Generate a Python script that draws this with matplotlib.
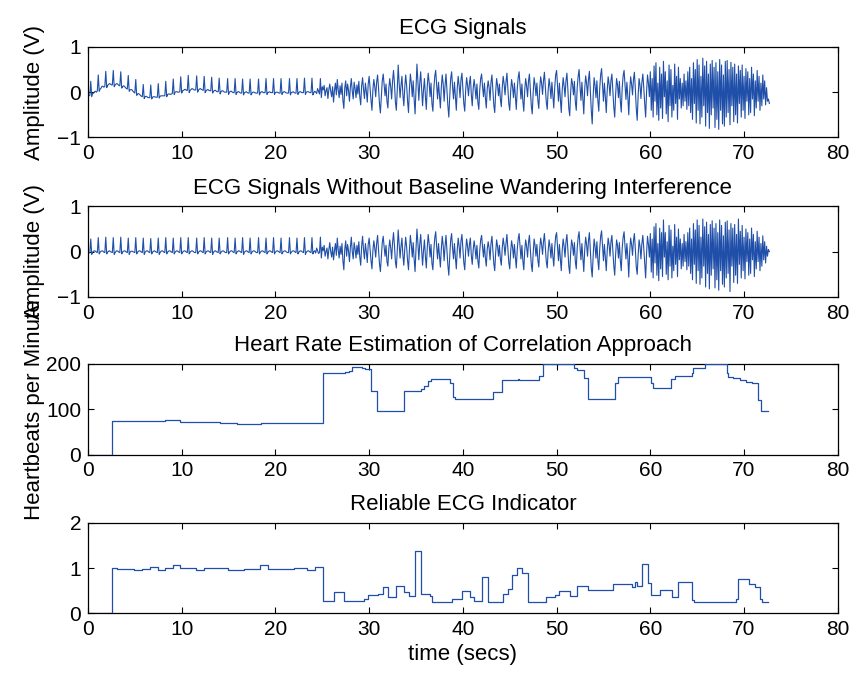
import numpy as np
import matplotlib
matplotlib.use("Agg")
import matplotlib.pyplot as plt

plt.rcParams['font.family'] = ['Liberation Sans', 'DejaVu Sans']

# sampling step of the traces (s)
dt = 0.1

# raw ECG, hundredths of a volt, one row = 1 s
ecg_raw_00_10 = [-10,-8,-7,24,-10,-3,-2,1,2,0, 3,38,2,7,9,13,13,11,13,46, 10,15,17,19,18,16,16,48,12,16,
    18,19,17,15,14,45,9,12,14,13, 10,8,7,37,2,5,6,5,2,0, -2,28,-7,-4,-3,-5,-7,-9,-10,17,
    -14,-10,-9,-10,-12,-12,-12,16,-15,-11, -10,-10,-11,-11,-11,19,-13,-9,-8,-8,
    -8,-8,-8,24,-10,-5,-4,-4,-5,-4, -3,29,-5,0,1,1,0,0,1,34]
ecg_raw_10_20 = [-2,3,4,6,6,4,4,37,-1,4, 6,8,7,5,5,5,36,0,5,7, 8,6,5,4,35,-1,3,5,6,4,
    3,3,33,-2,2,4,4,2,1,1, 31,-4,1,3,3,1,0,0,0,30, -5,0,2,2,0,-1,-1,30,-5,-1,
    1,1,-1,-2,-2,29,-6,-1,0,1, -1,-2,-2,29,-6,-2,0,0,-1,-2, -2,-2,29,-6,-1,1,1,-1,-1,-1,
    30,-5,-1,0,1,-1,-1,-1,30,-5]
ecg_raw_20_30 = [-1,0,0,-1,-2,-2,30,-5,-1,1, 1,-1,-2,-2,-2,30,-6,-1,0,1, -1,-2,-2,30,-5,-1,1,1,-1,-1,
    -1,31,-5,0,1,1,0,-1,-1,31, -6,-1,2,0,-3,8,2,-4,30,-12, 12,5,15,-8,3,10,-14,6,18,2,
    -10,12,-22,4,20,-6,28,5,-12,14, -5,20,-18,-36,10,25,-8,18,4,-20,
    12,30,2,-15,22,8,-12,16,-4,24, -10,-28,14,32,6,-14,20,2,-22,18]
ecg_raw_30_40 = [35,8,-18,-40,5,28,12,-10,22,38, 10,-25,-46,-10,25,40,15,-8,18,-20,
    -35,8,30,12,-15,25,48,20,-22,-40, 5,60,20,-12,15,35,-5,-30,10,38,
    15,-20,-45,8,40,20,-10,25,-15,-48, 10,62,25,-18,20,45,8,-30,5,30,
    -8,-38,12,42,22,-10,20,-25,-42,6, 35,48,15,-15,22,-5,-35,10,38,18,
    -20,15,40,5,-30,-55,-8,30,45,12, -15,22,-10,-40,8,35,15,-12,28,42]
ecg_raw_40_50 = [10,-25,-42,5,32,15,-8,20,35,-5, -30,8,28,10,-15,18,-22,-38,5,30,
    40,12,-10,20,-12,-35,8,25,10,-18, 22,38,6,-28,-45,0,30,15,-8,18,
    -15,-32,10,35,18,-6,22,42,8,-25, -40,2,28,12,-12,20,-10,-38,6,32,
    45,15,-15,18,-20,-42,4,30,14,-10, 24,40,5,-30,-48,-2,32,16,-8,20,
    -18,-36,8,34,20,-5,25,44,10,-22, -38,4,30,12,-14,22,-8,-35,10,38]
ecg_raw_50_60 = [48,15,-20,20,-15,-45,5,32,14,-10, 25,42,8,-35,-52,0,30,18,-6,24,
    -22,-40,10,35,50,12,-18,22,-12,-48, 6,36,20,-8,28,46,5,-40,-70,-10,
    32,15,-12,25,-18,-42,8,38,52,14, -20,20,-10,-45,4,34,18,-8,26,40,
    6,-32,-55,-5,30,16,-12,24,-20,-44, 10,36,48,14,-16,22,-10,-50,2,34,
    18,-6,28,44,8,-36,-62,-8,30,15, -14,22,40,10,-25,-55,0,38,20,-10]
ecg_raw_60_73 = [45,-40,30,-55,58,-20,65,-50,20,-62, 55,-35,40,-58,68,-10,45,-48,25,-65,
    60,-30,50,-55,15,-40,62,-25,35,-60, 55,-15,30,-35,20,-30,40,-20,25,-38,
    45,-30,55,-45,30,-60,65,-25,50,-68, 72,-40,60,-70,35,-55,75,-30,58,-75,
    68,-45,40,-80,62,-50,70,-35,55,-78, 65,-60,45,-82,72,-40,60,-70,38,-75,
    68,-55,70,-45,50,-72,66,-30,55,-65, 62,-50,40,-68,58,-25,48,-55,60,-40,
    35,-58,52,-20,45,-50,30,-45,55,-15, 40,-52,25,-35,48,-20,35,-40,20,-30,
    38,-15,25,-28,10,-20,-15,-25]

# ECG without baseline wander, hundredths of a volt
ecg_flt_00_10 = [-6,-3,-2,28,-6,-1,1,2,1,-1, -2,31,-5,-1,1,2,1,-1,-2,32, -5,-1,1,2,0,-1,-2,31,-6,-2,
    1,2,1,-1,-2,32,-5,-1,1,2, 1,-1,-2,30,-6,-1,1,1,0,-1, -2,31,-5,-1,1,2,1,-1,-2,30,
    -6,-1,1,2,1,-1,-2,29,-5,-1, 1,2,0,-1,-2,30,-6,-2,1,2, 1,-1,-2,31,-5,-1,1,2,1,-1,
    -2,30,-5,-1,1,2,1,-1,-2,31]
ecg_flt_10_20 = [-5,-1,1,2,1,-1,-2,31,-5,-1, 1,2,1,-1,-2,-2,30,-5,-1,1, 2,1,-1,-2,31,-5,-1,1,2,1,
    -1,-2,30,-6,-1,1,2,0,-1,-2, 30,-5,-1,1,2,1,-1,-2,-2,31, -5,-1,1,2,1,-1,-2,30,-5,-1,
    1,2,1,-1,-2,31,-6,-1,1,2, 1,-1,-2,30,-5,-1,1,2,1,-1, -2,-2,31,-5,-1,1,2,1,-1,-2,
    30,-5,-1,1,2,1,-1,-2,31,-5]
ecg_flt_20_30 = [-1,1,2,1,-1,-2,30,-5,-1,1, 2,1,-1,-2,-2,31,-5,-1,1,2, 1,-1,-2,30,-5,-1,1,2,1,-1,
    -2,31,-6,-1,1,2,1,-1,-2,31, -5,0,2,-3,8,2,-4,-2,32,-14, 10,2,14,-10,0,8,-16,4,20,0,
    -12,10,-18,2,18,-8,30,4,-14,12, -6,18,-20,-40,6,24,-10,16,2,-22,
    10,32,0,-16,20,6,-14,14,-6,22, -12,-30,12,34,4,-16,18,0,-24,16]
ecg_flt_30_40 = [30,4,-20,-38,2,24,8,-12,18,36, 6,-26,-44,-12,20,34,10,-10,14,-22,
    -32,6,26,8,-16,20,42,14,-22,-36, 2,48,16,-14,12,30,-8,-30,6,32,
    10,-20,-40,4,36,16,-12,20,-16,-44, 6,50,20,-18,16,38,4,-30,2,26,
    -10,-36,8,38,18,-12,16,-26,-40,2, 30,44,12,-16,18,-8,-34,6,34,14,
    -20,12,36,2,-30,-52,-10,26,40,8, -16,18,-12,-38,4,30,12,-14,24,38]
ecg_flt_40_50 = [6,-24,-40,2,28,12,-10,16,30,-8, -28,4,24,8,-16,14,-20,-36,2,26,
    36,10,-12,16,-14,-32,6,22,8,-18, 18,34,4,-26,-42,-2,26,12,-10,14,
    -16,-30,8,30,14,-8,18,38,6,-24, -38,0,24,10,-14,16,-12,-36,4,28,
    40,12,-16,14,-20,-40,2,26,12,-12, 20,36,4,-28,-44,-4,28,14,-10,16,
    -18,-34,6,30,16,-6,22,40,8,-22, -36,2,26,10,-14,18,-10,-32,8,34]
ecg_flt_50_60 = [42,12,-20,16,-16,-42,4,28,12,-12, 22,38,6,-32,-48,-2,26,14,-8,20,
    -22,-38,8,32,44,10,-18,18,-14,-44, 4,32,16,-10,24,42,4,-36,-56,-10,
    28,12,-14,22,-18,-40,6,34,46,12, -20,16,-12,-42,2,30,16,-10,22,36,
    4,-30,-52,-6,26,14,-14,20,-20,-42, 8,32,44,12,-16,18,-12,-56,0,30,
    16,-8,24,40,6,-34,-50,-8,26,12, -16,18,36,8,-26,-58,-4,34,16,-12]
ecg_flt_60_73 = [40,-45,28,-58,55,-25,62,-52,18,-64, 52,-38,42,-55,70,-12,42,-50,22,-62,
    58,-32,48,-58,12,-42,60,-28,32,-55, 50,-18,28,-38,18,-32,38,-22,22,-40,
    42,-32,52,-48,28,-62,62,-28,48,-70, 70,-42,58,-72,32,-58,72,-32,55,-78,
    65,-48,38,-82,60,-52,68,-38,52,-80, 62,-62,42,-85,70,-42,58,-72,35,-78,
    65,-58,68,-48,48,-88,62,-32,52,-68, 60,-52,38,-70,72,-28,45,-58,58,-42,
    32,-60,50,-22,42,-52,28,-48,52,-18, 38,-55,22,-38,45,-22,32,-42,18,-32,
    35,-18,22,-25,12,-10,5,0]

# heart rate steps (s, bpm)
hr_t = [0, 2.55, 6.3, 8.25, 9.8, 14.1, 15.9, 18.5, 25.1, 27.4, 27.9, 28.2, 29.2, 29.6, 30.2,
        30.8, 33.7, 35.5, 35.9, 36.3, 36.6, 38.6, 38.9, 39.2, 41.6, 43.2, 44.2, 45.9, 46.0,
        48.1, 48.5, 51.9, 52.2, 52.9, 53.4, 56.2, 56.5, 60.1, 60.3, 62.2, 62.6, 64.4, 64.6,
        65.8, 68.2, 68.3, 68.8, 69.6, 70.2, 70.9, 71.5, 71.8, 72.6]
hr_v = [0, 75, 74, 76, 72, 70, 68, 70, 179, 182, 185, 194, 190, 188, 140,
        95, 141, 145, 152, 162, 167, 158, 128, 123, 122, 139, 164, 167, 164,
        173, 199, 191, 187, 169, 123, 158, 172, 158, 147, 167, 173, 179, 191,
        199, 180, 172, 169, 165, 161, 158, 121, 95, 95]

# reliability indicator steps
rel_t = [0, 2.55, 3.1, 4.9, 5.75, 6.6, 7.5, 8.2, 9.1, 9.8, 11.5, 12.4, 14.9, 16.6, 18.4,
         19.2, 22.0, 23.4, 24.2, 25.1, 26.3, 27.3, 29.4, 29.9, 30.9, 31.5, 32.0, 32.9, 33.7,
         34.3, 34.9, 35.5, 36.5, 36.7, 38.8, 39.9, 40.8, 41.2, 42.0, 42.7, 44.3, 44.8, 45.2,
         45.8, 46.3, 46.9, 48.9, 49.8, 50.3, 51.4, 52.2, 53.4, 56.0, 58.0, 58.4, 58.6, 59.1,
         59.8, 60.1, 61.0, 62.3, 63.0, 64.4, 64.7, 69.1, 69.4, 70.5, 71.2, 71.7, 71.9, 72.6]
rel_v = [0, 1.0, 0.98, 0.95, 0.98, 1.02, 0.96, 1.0, 1.07, 1.01, 0.96, 1.0, 0.96, 0.99, 1.06,
         0.99, 1.0, 0.96, 1.02, 0.28, 0.47, 0.27, 0.33, 0.41, 0.44, 0.59, 0.36, 0.61, 0.48,
         0.39, 1.37, 0.44, 0.39, 0.26, 0.33, 0.5, 0.36, 0.28, 0.81, 0.26, 0.44, 0.53, 0.85,
         1.0, 0.9, 0.26, 0.37, 0.41, 0.5, 0.39, 0.61, 0.52, 0.65, 0.59, 0.7, 0.61, 1.09,
         0.67, 0.41, 0.52, 0.36, 0.7, 0.3, 0.25, 0.33, 0.76, 0.65, 0.59, 0.31, 0.26, 0.26]

ecg_raw = np.array(ecg_raw_00_10 + ecg_raw_10_20 + ecg_raw_20_30 + ecg_raw_30_40
                   + ecg_raw_40_50 + ecg_raw_50_60 + ecg_raw_60_73) / 100.0
ecg_flt = np.array(ecg_flt_00_10 + ecg_flt_10_20 + ecg_flt_20_30 + ecg_flt_30_40
                   + ecg_flt_40_50 + ecg_flt_50_60 + ecg_flt_60_73) / 100.0
t_raw = np.arange(len(ecg_raw)) * dt
t_flt = np.arange(len(ecg_flt)) * dt

col = '#1f4fa8'

fig = plt.figure(figsize=(8.54, 6.79), dpi=100)

L, W, H = 0.103, 0.878, 0.1335
bottoms = [0.7975, 0.5626, 0.3306, 0.0965]
axs = [fig.add_axes([L, b, W, H]) for b in bottoms]

axs[0].plot(t_raw, ecg_raw, color=col, lw=0.8)
axs[1].plot(t_flt, ecg_flt, color=col, lw=0.8)
axs[2].step(hr_t, hr_v, where='post', color=col, lw=0.9, zorder=3)
axs[3].step(rel_t, rel_v, where='post', color=col, lw=0.9, zorder=3)

titles = ["ECG Signals", "ECG Signals Without Baseline Wandering Interference",
          "Heart Rate Estimation of Correlation Approach", "Reliable ECG Indicator"]
ylims = [(-1, 1), (-1, 1), (0, 200), (0, 2)]
yticks = [[-1, 0, 1], [-1, 0, 1], [0, 100, 200], [0, 1, 2]]

for ax, ti, yl, yt in zip(axs, titles, ylims, yticks):
    ax.set_xlim(0, 80)
    ax.set_xticks(np.arange(0, 81, 10))
    ax.set_ylim(*yl)
    ax.set_yticks(yt)
    ax.set_title(ti, fontsize=16, pad=9)
    ax.tick_params(direction='in', top=True, right=True, length=4, width=0.8,
                   labelsize=15, pad=5)
    for s in ax.spines.values():
        s.set_linewidth(0.9)

axs[0].set_ylabel('Amplitude (V)', fontsize=16)
axs[1].set_ylabel('Amplitude (V)', fontsize=16)
axs[2].set_ylabel('Heartbeats per Minute', fontsize=16)
for ax in axs[:3]:
    ax.yaxis.set_label_coords(-0.057, 0.5)
axs[3].set_xlabel('time (secs)', fontsize=16, labelpad=3)

fig.savefig('out.png', dpi=100)
